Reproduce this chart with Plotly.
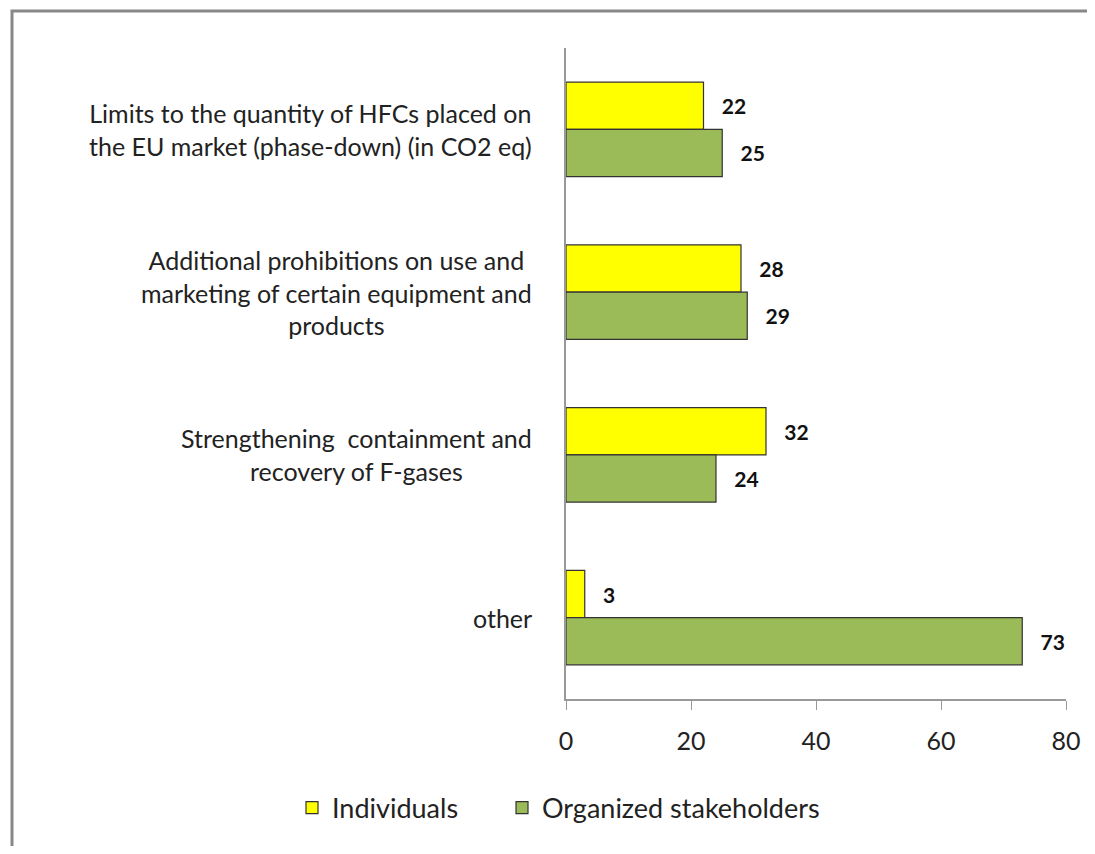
import plotly.graph_objects as go

categories = [
    "Limits to the quantity of HFCs placed on<br>the EU market (phase-down) (in CO2 eq)",
    "Additional prohibitions on use and<br>marketing of certain equipment and<br>products",
    "Strengthening  containment and<br>recovery of F-gases",
    "other",
]
individuals = [22, 28, 32, 3]
organized = [25, 29, 24, 73]
x_ticks = [0, 20, 40, 60, 80]

# page has an 8px body margin, so the figure starts at (8, 8)
W, H = 1079, 838
L, R, T, B = 558, 21, 40, 147
FONT = "Lato, 'Open Sans', sans-serif"
PAD = "\u00a0\u00a0\u00a0"
pw, ph = W - L - R, H - T - B

fig = go.Figure()
fig.add_trace(go.Bar(
    y=categories, x=individuals, name="Individuals", orientation="h",
    marker=dict(color="#FFFF00", line=dict(color="#333333", width=1.2)),
    text=[f"<b>{PAD}{v}</b>" for v in individuals], textposition="outside",
    textfont=dict(size=21, color="#111111", family=FONT), cliponaxis=False,
    legend="legend",
))
fig.add_trace(go.Bar(
    y=categories, x=organized, name="Organized stakeholders", orientation="h",
    marker=dict(color="#9BBB59", line=dict(color="#333333", width=1.2)),
    text=[f"<b>{PAD}{v}</b>" for v in organized], textposition="outside",
    textfont=dict(size=21, color="#111111", family=FONT), cliponaxis=False,
    legend="legend2",
))

# category labels, centred lines like the original
for c in categories:
    fig.add_annotation(
        x=0, xref="paper", y=c, yref="y", xshift=-32, xanchor="right",
        text=c, align="center", showarrow=False,
        font=dict(size=25, color="#222222", family=FONT),
    )

# outer frame (only top/left visible in the crop)
fig.add_shape(
    type="rect", xref="paper", yref="paper",
    x0=(4 - L) / pw, x1=(W + 20 - L) / pw,
    y0=-(B + 20) / ph, y1=(H - B - 3) / ph,
    line=dict(color="#888888", width=3), layer="below",
)

legend_style = dict(
    orientation="h", xref="paper", xanchor="left",
    y=-0.13, yanchor="top",
    font=dict(size=27, family=FONT, color="#222222"),
    itemwidth=30, bgcolor="rgba(0,0,0,0)",
)

fig.update_layout(
    width=W, height=H,
    margin=dict(l=L, r=R, t=T, b=B, autoexpand=False),
    paper_bgcolor="white", plot_bgcolor="white",
    barmode="group", bargap=0.42, bargroupgap=0,
    font=dict(family=FONT, size=24, color="#222222"),
    showlegend=True,
    legend=dict(legend_style, x=(284 - L) / pw),
    legend2=dict(legend_style, x=(494 - L) / pw),
    xaxis=dict(
        range=[0, 80], tickvals=x_ticks, showgrid=False, zeroline=False,
        showline=True, linecolor="#999999", linewidth=1.5,
        ticks="outside", ticklen=9, tickcolor="#999999",
        ticklabelstandoff=10,
        tickfont=dict(size=25, family=FONT, color="#222222"),
    ),
    yaxis=dict(
        autorange="reversed", showticklabels=False, showgrid=False,
        zeroline=False, showline=True, linecolor="#999999", linewidth=2,
        ticks="",
    ),
)

fig.write_html("out.html")
